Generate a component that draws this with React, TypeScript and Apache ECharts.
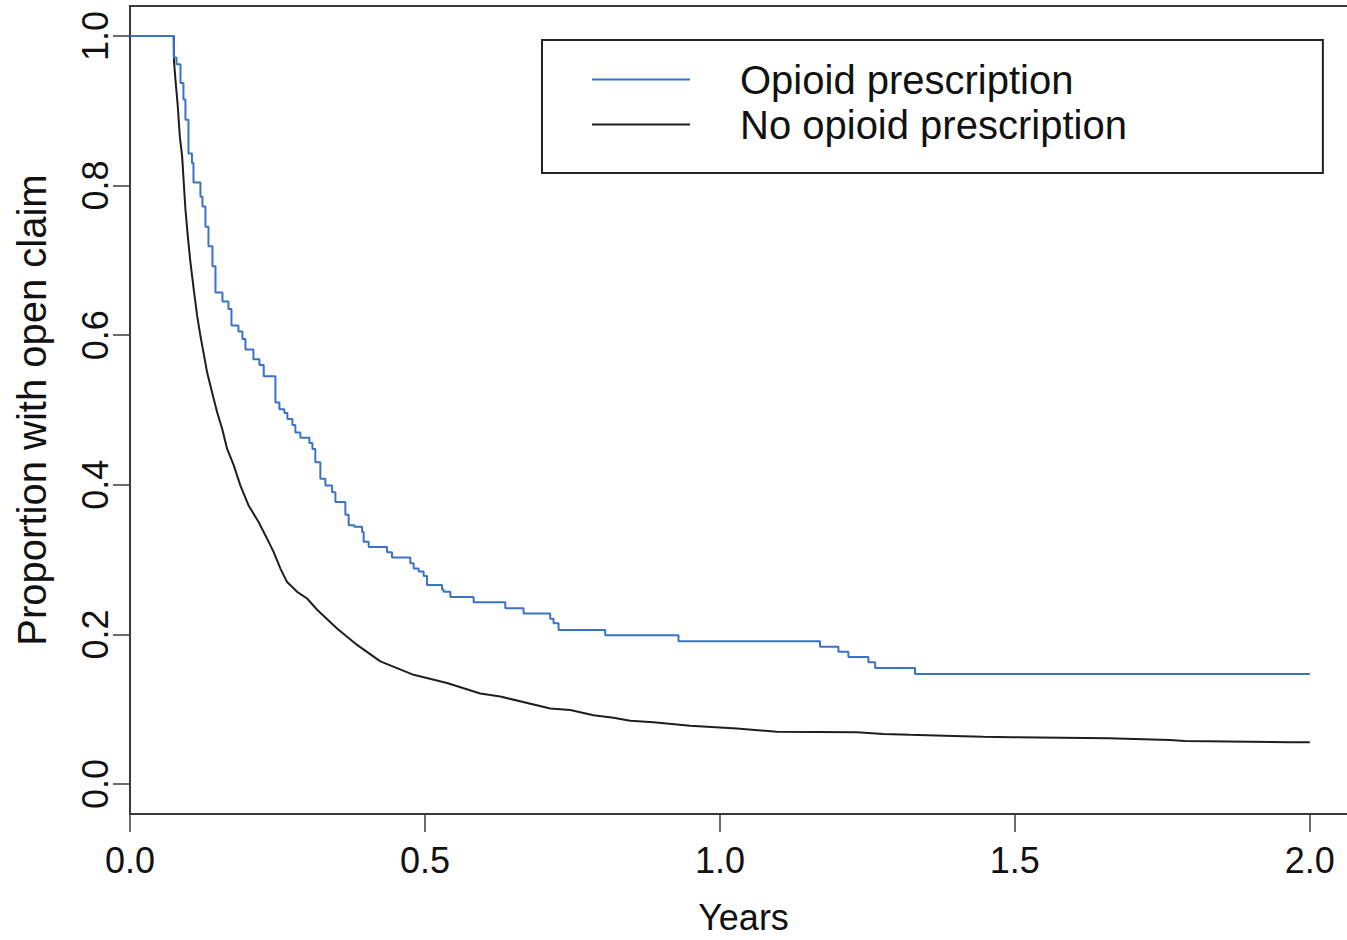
import React, { useEffect, useRef } from "react";
import * as echarts from "echarts";

// Kaplan-Meier style curves: [years, proportion with open claim]
const opioidTimes = [0, 0.0742, 0.0788, 0.0856, 0.0906, 0.094, 0.0991, 0.105, 0.1076, 0.1194, 0.1228, 0.1279, 0.133, 0.1398, 0.1449, 0.1567, 0.1669, 0.172, 0.1838, 0.1906, 0.1957, 0.2092, 0.2194, 0.2267, 0.2465, 0.2533, 0.2617, 0.2668, 0.2753, 0.2803, 0.2888, 0.3041, 0.3092, 0.3142, 0.3227, 0.3312, 0.3426, 0.3482, 0.3651, 0.3707, 0.3803, 0.3934, 0.3961, 0.4046, 0.4357, 0.4442, 0.4752, 0.4808, 0.4893, 0.4978, 0.5035, 0.5289, 0.5316, 0.543, 0.5825, 0.6362, 0.6672, 0.7124, 0.718, 0.7265, 0.8056, 0.9298, 1.1698, 1.2009, 1.2178, 1.2517, 1.2631, 1.3308, 2.0];
const opioidValues = [1.0, 0.971, 0.962, 0.937, 0.915, 0.888, 0.843, 0.83, 0.804, 0.785, 0.772, 0.745, 0.719, 0.692, 0.657, 0.645, 0.635, 0.613, 0.605, 0.595, 0.581, 0.568, 0.56, 0.545, 0.51, 0.501, 0.496, 0.488, 0.48, 0.47, 0.463, 0.456, 0.448, 0.43, 0.408, 0.399, 0.39, 0.377, 0.36, 0.346, 0.344, 0.337, 0.324, 0.317, 0.31, 0.303, 0.295, 0.288, 0.284, 0.278, 0.266, 0.26, 0.257, 0.25, 0.243, 0.235, 0.228, 0.221, 0.215, 0.206, 0.199, 0.191, 0.1835, 0.177, 0.17, 0.163, 0.155, 0.147, 0.147];

const noOpioidTimes = [0, 0.0742, 0.0746, 0.0771, 0.081, 0.0844, 0.0884, 0.0911, 0.094, 0.0979, 0.1025, 0.1081, 0.1138, 0.1194, 0.125, 0.1308, 0.1393, 0.1477, 0.1562, 0.1647, 0.1759, 0.1872, 0.2013, 0.2182, 0.2324, 0.2436, 0.255, 0.2663, 0.2833, 0.3002, 0.3172, 0.351, 0.3849, 0.4244, 0.4808, 0.5374, 0.5938, 0.6277, 0.7124, 0.7463, 0.7858, 0.8197, 0.848, 0.8874, 0.9496, 1.0287, 1.0965, 1.232, 1.2771, 1.3223, 1.3957, 1.4465, 1.4946, 1.6583, 1.7628, 1.7882, 1.9661, 2.0];
const noOpioidValues = [1.0, 1.0, 0.966, 0.941, 0.906, 0.866, 0.839, 0.804, 0.768, 0.733, 0.697, 0.661, 0.626, 0.599, 0.575, 0.55, 0.523, 0.497, 0.475, 0.448, 0.426, 0.399, 0.372, 0.35, 0.328, 0.31, 0.288, 0.27, 0.257, 0.248, 0.233, 0.208, 0.186, 0.164, 0.146, 0.135, 0.121, 0.117, 0.101, 0.099, 0.092, 0.0887, 0.0847, 0.0827, 0.0778, 0.0744, 0.07, 0.0693, 0.067, 0.0658, 0.0644, 0.0631, 0.0627, 0.0613, 0.059, 0.0577, 0.056, 0.056];

const seriesNames = ["Opioid prescription", "No opioid prescription"];
const xTicks = [0, 0.5, 1.0, 1.5, 2.0];
const yTicks = [0, 0.2, 0.4, 0.6, 0.8, 1.0];

const FONT = "'Liberation Sans', Arial, Helvetica, sans-serif";

export default function App() {
  const ref = useRef<HTMLDivElement>(null);
  useEffect(() => {
    if (!ref.current) return;
    const chart = echarts.init(ref.current, null, { renderer: "svg" });
    const zip = (ts: number[], vs: number[]) => ts.map((t, i) => [t, vs[i]]);
    chart.setOption({
      animation: false,
      backgroundColor: "#ffffff",
      textStyle: { fontFamily: FONT },
      grid: {
        left: 130,
        top: 6,
        right: 13,
        bottom: 118,
        show: true,
        borderColor: "#3a3a3a",
        borderWidth: 2,
        backgroundColor: "transparent",
      },
      legend: {
        left: 542,
        top: 40,
        orient: "vertical",
        icon: "rect",
        itemWidth: 98,
        itemHeight: 2,
        itemGap: 0,
        padding: [17, 196, 26, 50],
        borderColor: "#222",
        borderWidth: 2,
        selectedMode: false,
        textStyle: {
          fontFamily: FONT,
          fontSize: 40,
          color: "#111",
          lineHeight: 45,
          padding: [0, 0, 0, 45],
        },
        data: seriesNames,
      },
      xAxis: {
        type: "value",
        min: 0,
        max: 2.08,
        name: "Years",
        nameLocation: "middle",
        nameGap: 85,
        nameTextStyle: { fontFamily: FONT, fontSize: 36, color: "#111" },
        axisLine: { show: true, onZero: false, lineStyle: { color: "#3a3a3a", width: 2 } },
        axisTick: {
          show: true,
          inside: false,
          length: 18,
          customValues: xTicks,
          lineStyle: { color: "#3a3a3a", width: 1.5 },
        },
        axisLabel: {
          customValues: xTicks,
          fontFamily: FONT,
          fontSize: 36,
          color: "#111",
          margin: 28,
          formatter: (v: number) => v.toFixed(1),
        },
        splitLine: { show: false },
      },
      yAxis: {
        type: "value",
        min: -0.04,
        max: 1.04,
        name: "Proportion with open claim",
        nameLocation: "middle",
        nameRotate: 90,
        nameGap: 78,
        nameTextStyle: { fontFamily: FONT, fontSize: 40, color: "#111" },
        axisLine: { show: true, onZero: false, lineStyle: { color: "#3a3a3a", width: 2 } },
        axisTick: {
          show: true,
          inside: false,
          length: 17,
          customValues: yTicks,
          lineStyle: { color: "#3a3a3a", width: 1.5 },
        },
        axisLabel: {
          customValues: yTicks,
          rotate: 90,
          fontFamily: FONT,
          fontSize: 36,
          color: "#111",
          margin: 17,
          formatter: (v: number) => v.toFixed(1),
        },
        splitLine: { show: false },
      },
      series: [
        {
          name: seriesNames[0],
          type: "line",
          step: "end",
          showSymbol: false,
          symbol: "none",
          color: "#3a72c6",
          lineStyle: { color: "#3a72c6", width: 2 },
          data: zip(opioidTimes, opioidValues),
          z: 3,
        },
        {
          name: seriesNames[1],
          type: "line",
          showSymbol: false,
          symbol: "none",
          color: "#1e1e1e",
          lineStyle: { color: "#1e1e1e", width: 2 },
          data: zip(noOpioidTimes, noOpioidValues),
          z: 2,
        },
      ],
    });
    return () => chart.dispose();
  }, []);
  return (
    <div style={{ position: "absolute", left: 0, top: 0, width: 1347, height: 940, overflow: "hidden", background: "#fff" }}>
      <div ref={ref} style={{ position: "absolute", left: 0, top: 0, width: 1370, height: 940 }} />
    </div>
  );
}
